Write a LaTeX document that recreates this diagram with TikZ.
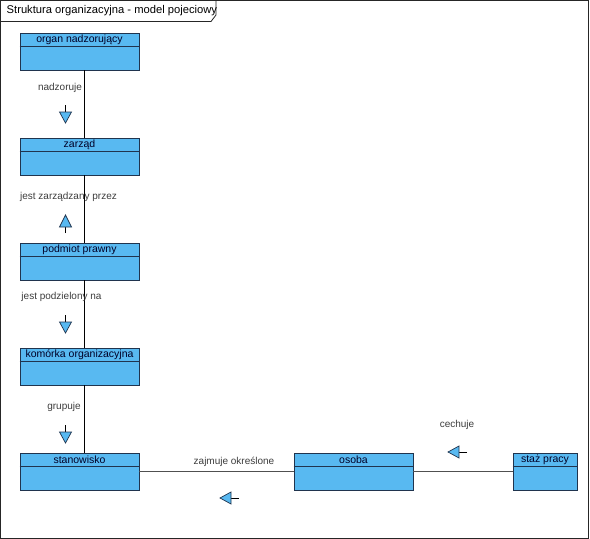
\documentclass[tikz,border=0pt]{standalone}
\usepackage{fontspec}
\setmainfont{Liberation Sans}
\definecolor{boxfill}{RGB}{88,185,241}
\definecolor{boxline}{RGB}{32,52,78}
\definecolor{labtext}{RGB}{60,60,60}
\definecolor{linegray}{RGB}{80,80,80}
\tikzset{
  classbox/.style={draw=boxline, fill=boxfill, line width=0.9pt, minimum height=37pt, inner sep=0pt, rectangle},
  classname/.style={font=\fontsize{10.5}{12}\selectfont, text=black!85!blue, inner sep=0pt},
  rel/.style={font=\fontsize{10}{12}\selectfont, text=labtext, inner sep=0pt},
  conn/.style={line width=0.8pt, draw=black},
  hconn/.style={line width=0.8pt, draw=linegray},
  arrowdn/.pic={\draw[line width=0.7pt] (0,0) -- (0,7); \draw[line width=0.7pt, fill=boxfill, draw=boxline] (-6,7) -- (6,7) -- (0,18) -- cycle;},
  arrowup/.pic={\draw[line width=0.7pt] (0,0) -- (0,-6); \draw[line width=0.7pt, fill=boxfill, draw=boxline] (-6,-6) -- (6,-6) -- (0,-18) -- cycle;},
  arrowlt/.pic={\draw[line width=0.7pt] (0,0) -- (-8,0); \draw[line width=0.7pt, fill=boxfill, draw=boxline] (-8,-6) -- (-8,6) -- (-19,0) -- cycle;}
}
\begin{document}
\begin{tikzpicture}[x=1pt, y=-1pt]
\useasboundingbox (0,0) rectangle (590,539);
% frame
\draw[line width=1pt, draw=black!85] (0.5,0.5) rectangle (588.5,538.2);
\draw[line width=0.8pt, draw=black!85] (0.5,21.5) -- (211,21.5) -- (216,15) -- (216,0.5);
\node[anchor=west, font=\fontsize{11.2}{13}\selectfont, inner sep=0pt] (title) at (6.5,11) {Struktura organizacyjna - model pojeciowy};
% class boxes
\foreach \n/\x/\y/\w/\t in {
  organ/79.5/51.5/119/organ nadzorujący,
  zarzad/79.5/156.5/119/zarząd,
  podmiot/79.5/261.5/119/podmiot prawny,
  komorka/79.5/366.5/119/komórka organizacyjna,
  stanowisko/79.5/471.5/119/stanowisko,
  osoba/353.5/471.5/119/osoba,
  staz/545/471.5/64/staż pracy}{
  \node[classbox, minimum width=\w pt] (\n) at (\x,\y) {};
  \draw[draw=boxline, line width=0.9pt] ([yshift=-14pt]\n.north west) -- ([yshift=-14pt]\n.north east);
  \node[classname] (\n-name) at ([yshift=-7.5pt]\n.north) {\t};
}
% connectors
\draw[conn] ([xshift=5pt]organ.south) -- ([xshift=5pt]zarzad.north);
\draw[conn] ([xshift=5pt]zarzad.south) -- ([xshift=5pt]podmiot.north);
\draw[conn] ([xshift=5pt]podmiot.south) -- ([xshift=5pt]komorka.north);
\draw[conn] ([xshift=5pt]komorka.south) -- ([xshift=5pt]stanowisko.north);
\draw[hconn] (stanowisko.east) -- (osoba.west);
\draw[hconn] (osoba.east) -- (staz.west);
% labels
\node[rel] (l1) at (60,87.5) {nadzoruje};
\node[rel] (l2) at (68.5,196.5) {jest zarządzany przez};
\node[rel] (l3) at (61.5,297) {jest podzielony na};
\node[rel] (l4) at (64,406.5) {grupuje};
\node[rel] (l5) at (234,461.5) {zajmuje określone};
\node[rel] (l6) at (457,424.5) {cechuje};
% direction arrows
\pic at (65.5,105) {arrowdn};
\pic at (65.5,233) {arrowup};
\pic at (65.5,315) {arrowdn};
\pic at (65.5,425) {arrowdn};
\pic at (239,498) {arrowlt};
\pic at (467,452) {arrowlt};
\end{tikzpicture}
\end{document}
